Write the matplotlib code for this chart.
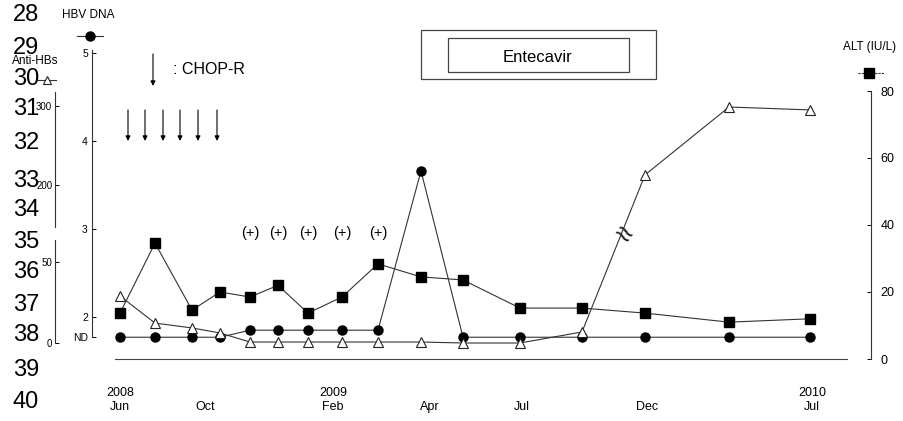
import numpy as np
import matplotlib.pyplot as plt
from matplotlib.lines import Line2D
from matplotlib.patches import Rectangle

plt.rcParams['font.family'] = ['Liberation Sans', 'DejaVu Sans']

W, H = 904, 421

# visit positions along the schematic time axis
visit_x = [0, 35, 72, 100, 130, 158, 188, 222, 258, 301, 343, 400, 462, 525, 609, 690]
hbv_dna = ["ND", "ND", "ND", "ND", "(+)", "(+)", "(+)", "(+)", "(+)", 3.66,
           "ND", "ND", "ND", "ND", "ND", "ND"]            # log copies
alt = [13.7, 34.6, 14.6, 20.0, 18.5, 22.0, 13.7, 18.5, 28.4, 24.5,
       23.6, 15.2, 15.2, 13.7, 11.0, 12.0]                 # IU/L
anti_hbs = [29, 12.3, 9.3, 6.2, 0.6, 0.6, 0.6, 0.6, 0.6, 0.6,
            0, 0, 6.8, 212.7, 298.7, 295]
chop_r_x = [8, 25, 43, 60, 78, 97]
tick_x = [0, 85, 213, 310, 402, 527, 692]
tick_labels = ["2008\nJun", "\nOct", "2009\nFeb", "\nApr", "\nJul", "\nDec", "2010\nJul"]
hbv_ticks = [2, 3, 4, 5]
alt_ticks = [0, 20, 40, 60, 80]
line_numbers = list(range(28, 41))
line_number_y = [15, 48, 79, 109, 143, 181, 210, 242, 272, 305, 335, 370, 402]

ND_Y = 1.77   # plotting level for "not detected"
POS_Y = 1.85  # plotting level for "(+)" detected, not quantified
hbv_y = [ND_Y if v == "ND" else POS_Y if v == "(+)" else v for v in hbv_dna]


def fig_xy(px, py):
    return px / W, 1 - py / H


fig = plt.figure(figsize=(W / 100, H / 100), dpi=100)
L, R, T, B = 92, 871, 50, 359
ax = fig.add_axes([L / W, 1 - B / H, (R - L) / W, (B - T) / H])


def hbv_of_px(py):
    return 2 + (317 - py) / 88


line_kw = dict(color='#333333', lw=0.8)

# ---- HBV DNA (left axis)
ax.set_xlim(-28, 751)
ax.set_ylim(hbv_of_px(B), hbv_of_px(T))
ax.plot(visit_x, hbv_y, marker='o', ms=6.5, mfc='black', mec='black', zorder=3, **line_kw)
for sp in ['top', 'right']:
    ax.spines[sp].set_visible(False)
ax.spines['left'].set_bounds(ND_Y, 5.03)
ax.spines['left'].set_linewidth(0.8)
ax.spines['left'].set_color('#333333')
ax.spines['bottom'].set_bounds(-5, 727)
ax.spines['bottom'].set_linestyle((0, (1, 1)))
ax.spines['bottom'].set_linewidth(0.8)
ax.spines['bottom'].set_color('#444444')
ax.set_yticks([ND_Y] + hbv_ticks, ["ND"] + [str(t) for t in hbv_ticks])
ax.tick_params(axis='y', direction='in', length=3, width=0.7, pad=3, labelsize=7.5)
ax.set_xticks(tick_x, tick_labels)
ax.tick_params(axis='x', length=0, pad=20, labelsize=9)
for lab in ax.get_xticklabels():
    lab.set_linespacing(1.25)

for x, v in zip(visit_x, hbv_dna):
    if v == "(+)":
        ax.text(x, hbv_of_px(233), "(+)", ha='center', va='center', fontsize=10.5)

for x in chop_r_x:
    ax.annotate("", xy=(x, hbv_of_px(141)), xytext=(x, hbv_of_px(110)),
                arrowprops=dict(arrowstyle='-|>', color='black', lw=0.8,
                                mutation_scale=7, shrinkA=0, shrinkB=0))

# ---- ALT (right axis)
ax_alt = ax.twinx()
ax_alt.set_ylim(0, (B - T) / 3.35)
ax_alt.plot(visit_x, alt, marker='s', ms=7, mfc='black', mec='black', zorder=3, **line_kw)
for sp in ['top', 'left', 'bottom']:
    ax_alt.spines[sp].set_visible(False)
ax_alt.spines['right'].set_bounds(0, 80)
ax_alt.spines['right'].set_linewidth(0.8)
ax_alt.spines['right'].set_color('#333333')
ax_alt.set_yticks(alt_ticks)
ax_alt.tick_params(axis='y', direction='in', length=3, width=0.7, pad=7, labelsize=9)

# ---- Anti-HBs (outer left axis, broken)
V = [-1000, 0, 63.6, 146.8, 1000]
G = [-1620, 0, 103, 116, 790]
fwd = lambda v: np.interp(v, V, G)
inv = lambda g: np.interp(g, G, V)


def anti_axis(bounds, ticks):
    a = ax.twinx()
    a.set_yscale('function', functions=(fwd, inv))
    a.set_ylim(inv(-16), inv(293))
    a.yaxis.tick_left()
    a.yaxis.set_label_position('left')
    for sp in ['top', 'right', 'bottom']:
        a.spines[sp].set_visible(False)
    a.spines['left'].set_visible(True)
    a.spines['left'].set_position(('outward', (L - 55) * 0.72))
    a.spines['left'].set_bounds(*bounds)
    a.spines['left'].set_linewidth(0.8)
    a.spines['left'].set_color('#333333')
    a.set_yticks(ticks)
    a.yaxis.set_minor_locator(plt.NullLocator())
    a.tick_params(axis='y', direction='in', length=3, width=0.7, pad=2, labelsize=7)
    return a


ax_anti = anti_axis((146.8, 317.7), [200, 300])
ax_anti_low = anti_axis((0, 63.6), [0, 50])
ax_anti.plot(visit_x, anti_hbs, marker='^', ms=6.5, mfc='white', mec='#222222',
             mew=0.8, zorder=3, **line_kw)
ax_anti.text(502, 95, "\u2248", ha='center', va='center', fontsize=22, rotation=-35,
             color='#222222')

# ---- legend items / annotations (figure pixels)
fig.text(*fig_xy(62, 15), "HBV DNA", fontsize=8.5, ha='left', va='center')
fig.add_artist(Line2D([77 / W, 103 / W], [1 - 36 / H] * 2, transform=fig.transFigure, **line_kw))
fig.add_artist(Line2D([90 / W], [1 - 36 / H], transform=fig.transFigure, marker='o',
                      ms=6.5, color='black'))
fig.text(*fig_xy(12, 61), "Anti-HBs", fontsize=8.5, ha='left', va='center')
fig.add_artist(Line2D([38 / W, 56 / W], [1 - 80 / H] * 2, transform=fig.transFigure, **line_kw))
fig.add_artist(Line2D([47 / W], [1 - 80 / H], transform=fig.transFigure, marker='^',
                      ms=6, mfc='white', mec='#222222', mew=0.8))
fig.text(*fig_xy(870, 47), "ALT (IU/L)", fontsize=8.5, ha='center', va='center')
fig.add_artist(Line2D([858 / W, 884 / W], [1 - 73 / H] * 2, transform=fig.transFigure,
                      ls=(0, (2, 1)), **line_kw))
fig.add_artist(Line2D([869 / W], [1 - 73 / H], transform=fig.transFigure, marker='s',
                      ms=7, color='black'))

fig.add_artist(Rectangle(fig_xy(421, 79), 235 / W, 49 / H, transform=fig.transFigure,
                         fill=False, ec='#444444', lw=0.9))
fig.add_artist(Rectangle(fig_xy(448, 72), 181 / W, 34 / H, transform=fig.transFigure,
                         fill=False, ec='#444444', lw=0.9))
fig.text(*fig_xy(538, 57), "Entecavir", fontsize=12, ha='center', va='center')

ax.annotate("", xy=fig_xy(153, 86), xytext=fig_xy(153, 54), xycoords='figure fraction',
            textcoords='figure fraction',
            arrowprops=dict(arrowstyle='-|>', color='black', lw=0.8, mutation_scale=7,
                            shrinkA=0, shrinkB=0))
fig.text(*fig_xy(173, 70), ": CHOP-R", fontsize=11.5, ha='left', va='center')

for n, y in zip(line_numbers, line_number_y):
    fig.text(13 / W, 1 - y / H, str(n), fontsize=17, ha='left', va='center')

fig.savefig("out.png", dpi=100)
